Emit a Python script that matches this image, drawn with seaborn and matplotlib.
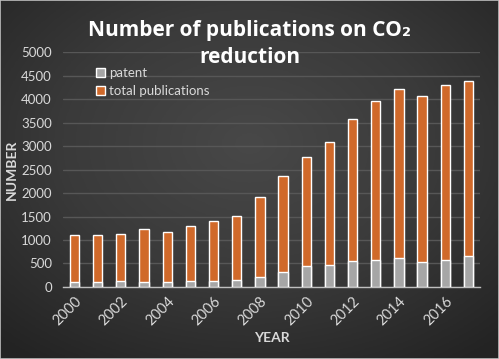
import numpy as np
import pandas as pd
import matplotlib
matplotlib.use('Agg')
import matplotlib.pyplot as plt
from matplotlib.colors import LinearSegmentedColormap
from matplotlib.patches import Rectangle
import seaborn as sns

# data
years = [str(y) for y in range(2000, 2018)]
total = [1105, 1105, 1125, 1240, 1170, 1290, 1400, 1510, 1910,
         2370, 2775, 3080, 3575, 3955, 4205, 4070, 4300, 4375]
patent = [113, 100, 128, 113, 113, 128, 128, 150, 218,
          326, 447, 475, 553, 574, 617, 538, 567, 666]

df = pd.DataFrame({'year': years, 'total': total, 'patent': patent})

sns.set_theme(style='dark')
plt.rcParams['font.family'] = ['Lato', 'DejaVu Sans']

orange = '#d0692a'
gray = '#a6a6a6'
txt = '#d9d9d9'

fig = plt.figure(figsize=(4.99, 3.59), dpi=100)

# radial dark background
bg = fig.add_axes([0, 0, 1, 1], zorder=-10)
yy, xx = np.mgrid[-1:1:300j, -1:1:400j]
r = np.sqrt(xx ** 2 + (yy + 0.2) ** 2)
cmap = LinearSegmentedColormap.from_list('bg', ['#484848', '#3a3a3a', '#232323'])
bg.imshow(r, cmap=cmap, aspect='auto', extent=[0, 1, 0, 1], vmin=0, vmax=1.5)
bg.set_axis_off()
fig.patches.append(Rectangle((0, 0), 1, 1, transform=fig.transFigure,
                             fill=False, edgecolor='#bfbfbf', linewidth=1.2))

ax = fig.add_axes([0.126, 0.2006, 0.836, 0.6544])
ax.set_facecolor('none')

sns.barplot(data=df, x='year', y='total', color=orange, width=0.4,
            saturation=1, label='total publications', ax=ax, zorder=3)
sns.barplot(data=df, x='year', y='patent', color=gray, width=0.4,
            saturation=1, label='patent', ax=ax, zorder=4)

ax.set_ylim(0, 5000)
ax.set_xlim(-0.5, 17.5)
ax.set_yticks(range(0, 5001, 500))
ax.yaxis.grid(True, color='#575757', linewidth=1)
ax.set_axisbelow(True)
for s in ['top', 'right', 'left']:
    ax.spines[s].set_visible(False)
ax.spines['bottom'].set_color('#bfbfbf')
ax.spines['bottom'].set_linewidth(1)

ax.set_xticks(range(0, 18, 2))
ax.set_xticklabels(years[::2], rotation=45, ha='right', rotation_mode='anchor')
ax.tick_params(axis='y', colors=txt, labelsize=9.5, length=0, pad=8)
ax.tick_params(axis='x', colors=txt, labelsize=10.5, length=0, pad=5)

ax.set_xlabel('YEAR', color=txt, fontsize=10, fontweight='bold', labelpad=3)
ax.set_ylabel('NUMBER', color=txt, fontsize=10, fontweight='bold', labelpad=2)

handles, labels = ax.get_legend_handles_labels()
leg = ax.legend(handles[::-1], labels[::-1], loc='upper left',
                bbox_to_anchor=(0.05, 0.985), frameon=False, fontsize=9.5,
                handlelength=0.7, handleheight=0.7, handletextpad=0.3,
                labelspacing=0.45, labelcolor=txt)

fig.text(0.5, 0.878, 'Number of publications on CO\u2082\nreduction', ha='center',
         va='center', color='white', fontsize=15, fontweight='bold',
         family=['Open Sans', 'DejaVu Sans'], linespacing=1.4)

fig.savefig('out.png', dpi=100)
